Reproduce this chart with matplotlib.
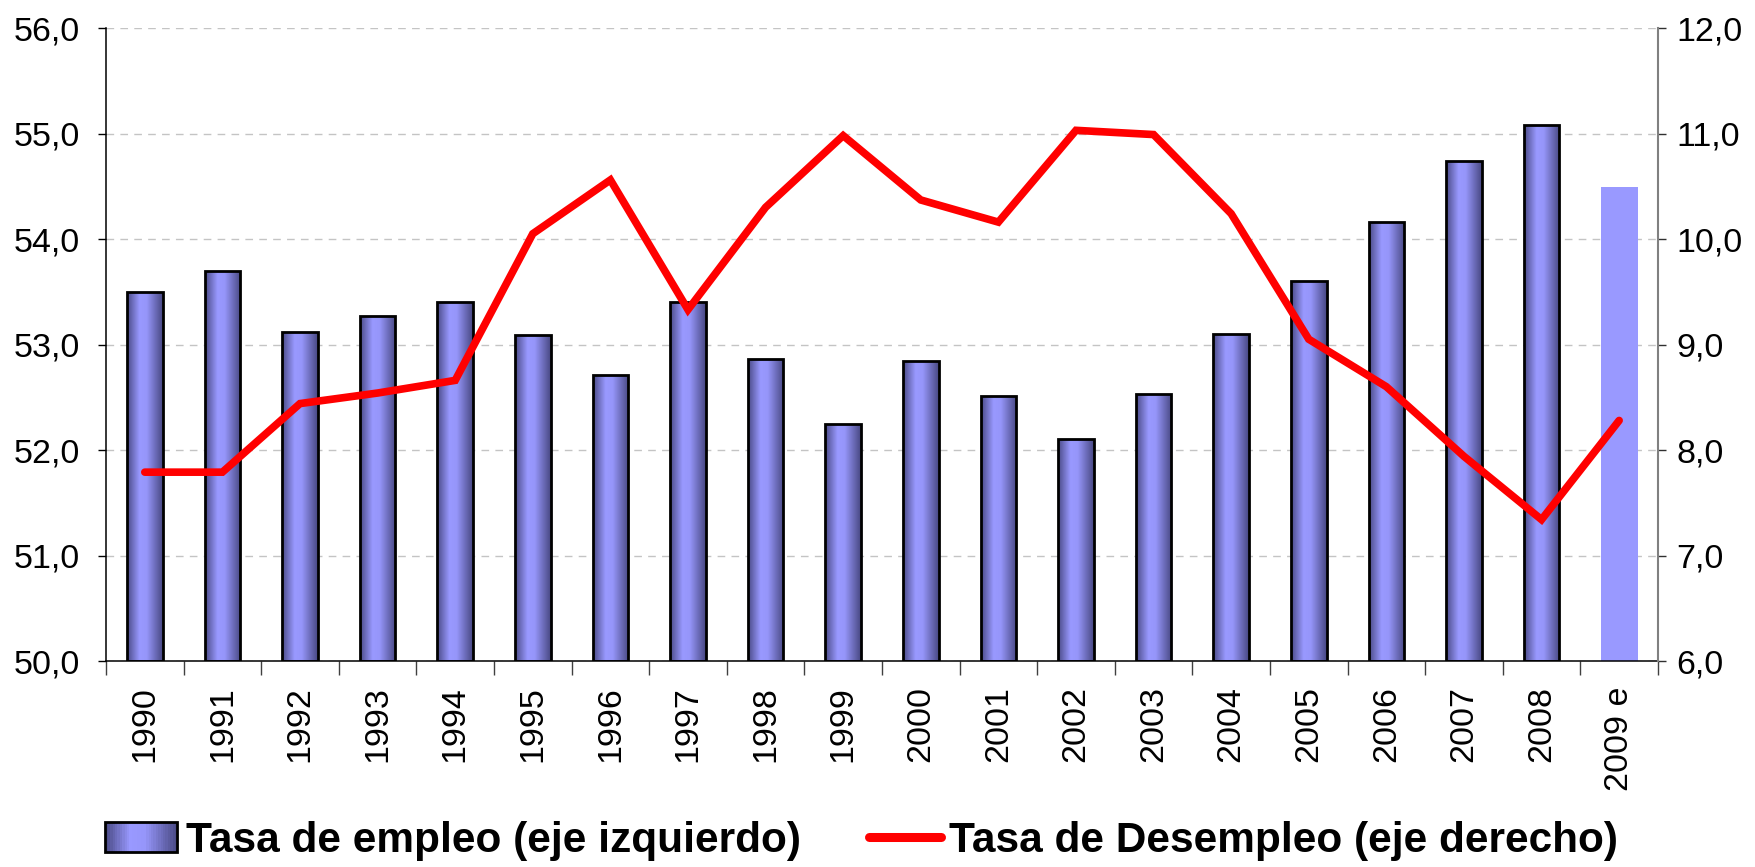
import numpy as np
import matplotlib as mpl
import matplotlib.pyplot as plt
from matplotlib.colors import LinearSegmentedColormap
from matplotlib.patches import Rectangle
from matplotlib.lines import Line2D
from matplotlib.legend_handler import HandlerBase
from matplotlib.ticker import FuncFormatter

# ----------------------------------------------------------------------
# Data
# ----------------------------------------------------------------------
years = ["1990", "1991", "1992", "1993", "1994", "1995", "1996", "1997",
         "1998", "1999", "2000", "2001", "2002", "2003", "2004", "2005",
         "2006", "2007", "2008", "2009 e"]
empleo = [53.50, 53.70, 53.12, 53.27, 53.40, 53.09, 52.71, 53.40, 52.86,
          52.25, 52.84, 52.51, 52.10, 52.53, 53.10, 53.60, 54.16, 54.74,
          55.08, 54.49]
desempleo = [7.79, 7.79, 8.44, 8.54, 8.66, 10.05, 10.56, 9.33, 10.30, 10.98,
             10.37, 10.16, 11.03, 10.99, 10.24, 9.05, 8.60, 7.94, 7.34, 8.28]
label_empleo = "Tasa de empleo (eje izquierdo)"
label_desempleo = "Tasa de Desempleo (eje derecho)"

# ----------------------------------------------------------------------
# Style
# ----------------------------------------------------------------------
mpl.rcParams.update({
    "font.family": "sans-serif",
    "font.sans-serif": ["Liberation Sans", "DejaVu Sans"],
    "font.size": 24,
})

bar_cmap = LinearSegmentedColormap.from_list(
    "barra", [(0.0, "#4a4a86"), (0.35, "#9999ff"), (0.55, "#9696fa"),
              (1.0, "#484882")])
grad = np.linspace(0, 1, 256).reshape(1, -1)
coma = FuncFormatter(lambda v, p: f"{v:.1f}".replace(".", ","))


class HandlerGradiente(HandlerBase):
    def create_artists(self, legend, orig, xd, yd, w, h, fontsize, trans):
        n = 30
        arts = []
        for i in range(n):
            arts.append(Rectangle((-xd + w * i / n, -yd), w / n * 1.08, h,
                                  facecolor=bar_cmap((i + 0.5) / n), lw=0,
                                  transform=trans))
        arts.append(Rectangle((-xd, -yd), w, h, fill=False, ec="k", lw=2.0,
                              transform=trans))
        return arts


# ----------------------------------------------------------------------
# Figure
# ----------------------------------------------------------------------
fig = plt.figure(figsize=(17.55, 8.67), dpi=100)
ax = fig.add_axes([0.0604, 0.2376, 0.8843, 0.7301])
ax2 = ax.twinx()

x = np.arange(len(years))
width = 0.46
for xi, v, lab in zip(x, empleo, years):
    if lab.endswith("e"):
        ax.bar(xi, v - 50, bottom=50, width=width + 0.02, color="#9999ff",
               lw=0, zorder=2)
        continue
    rect = ax.bar(xi, v - 50, bottom=50, width=width, facecolor="none",
                  edgecolor="k", lw=2.0, zorder=3)[0]
    im = ax.imshow(grad, extent=(xi - width / 2, xi + width / 2, 50, v),
                   aspect="auto", cmap=bar_cmap, interpolation="bicubic",
                   zorder=2)
    im.set_clip_path(rect)

line, = ax2.plot(x, desempleo, color="#ff0000", lw=5.5,
                 solid_capstyle="round", solid_joinstyle="miter", zorder=4)

# Axes cosmetics
ax.set_xlim(-0.5, len(years) - 0.5)
ax.set_ylim(50, 56)
ax2.set_ylim(6, 12)
ax.set_yticks(np.arange(50, 57, 1))
ax2.set_yticks(np.arange(6, 13, 1))
ax.yaxis.set_major_formatter(coma)
ax2.yaxis.set_major_formatter(coma)

ax.set_xticks(np.arange(-0.5, len(years), 1))
ax.set_xticklabels([])
ax.set_xticks(x, minor=True)
ax.set_xticklabels(years, minor=True, rotation=90)
ax.tick_params(axis="x", which="major", direction="out", length=10,
               width=1.0, color="#404040")
ax.tick_params(axis="x", which="minor", length=0, pad=18, labelsize=24.5)

ax.yaxis.grid(True, color="#c4c4c4", lw=1.0, ls=(0, (5.5, 4.5)))
ax.set_axisbelow(True)
ax.tick_params(axis="y", direction="out", length=6, width=1.0, pad=13,
               labelsize=24.5)
ax2.tick_params(axis="y", direction="out", length=6, width=1.0, pad=7,
                labelsize=24.5, color="#303030")

for a in (ax, ax2):
    a.spines["top"].set_visible(False)
ax.spines["right"].set_visible(False)
ax2.spines["left"].set_visible(False)
ax2.spines["bottom"].set_visible(False)
ax.spines["left"].set_linewidth(1.1)
ax.spines["bottom"].set_linewidth(1.1)
ax2.spines["right"].set_color("#808080")
ax2.spines["right"].set_linewidth(1.5)

# Legend
proxy = Rectangle((0, 0), 1, 1)
leg_line = Line2D([], [], color="#ff0000", lw=6.5, solid_capstyle="round")
fig.legend([proxy, leg_line], [label_empleo, label_desempleo],
           handler_map={proxy: HandlerGradiente()},
           loc="center", bbox_to_anchor=(0.491, 0.03), ncol=2,
           frameon=False, prop={"weight": "bold", "size": 30.5},
           handlelength=1.7, handleheight=0.72, handletextpad=0.2,
           columnspacing=1.6, borderaxespad=0, borderpad=0)

fig.savefig("out.png", dpi=100)
